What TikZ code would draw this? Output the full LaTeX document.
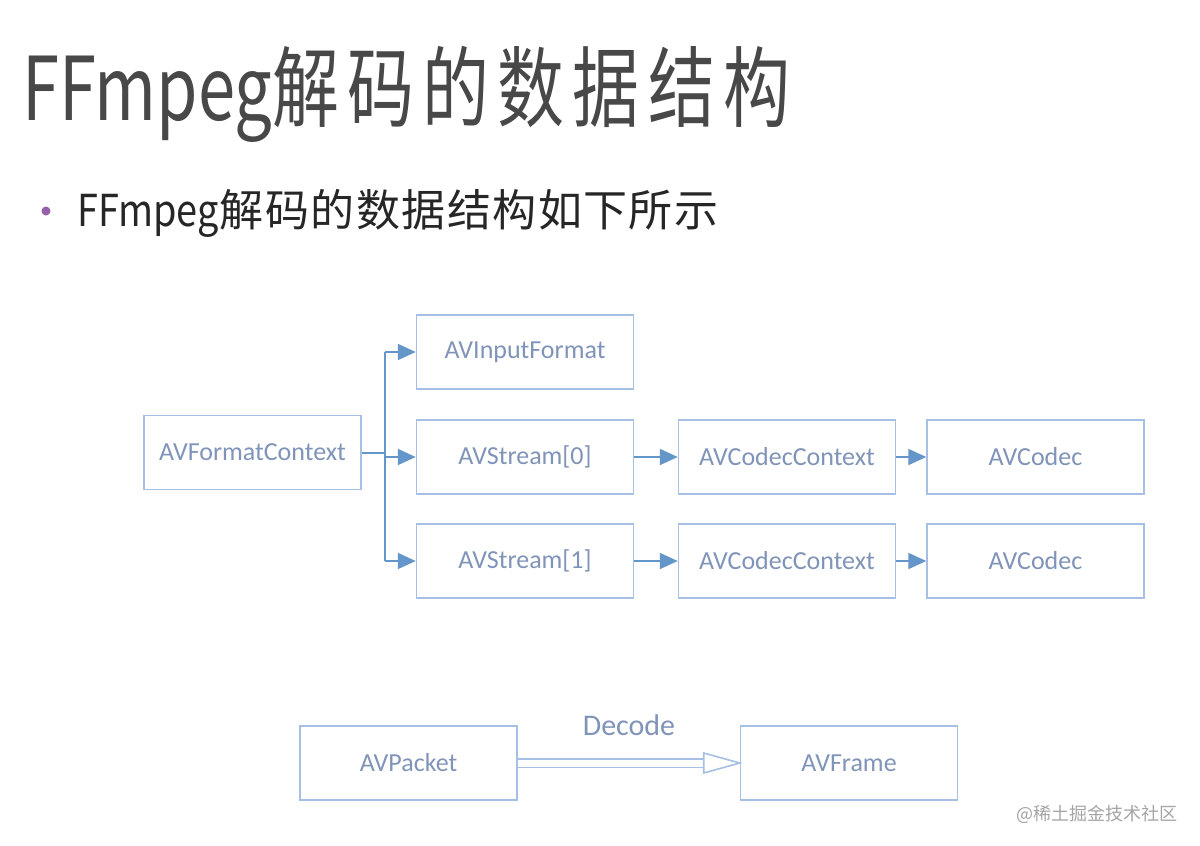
\documentclass[tikz,border=0pt]{standalone}
\usepackage{fontspec}
\setmainfont{Carlito}
\newfontfamily\cjk{Noto Sans CJK SC}
\usetikzlibrary{arrows.meta,calc}
\definecolor{boxline}{RGB}{165,192,228}
\definecolor{boxtext}{RGB}{128,148,185}
\definecolor{arrowc}{RGB}{100,150,202}
\definecolor{titlec}{RGB}{72,72,72}
\definecolor{bulletc}{RGB}{150,95,170}
\definecolor{wmark}{RGB}{165,165,165}
\begin{document}
\begin{tikzpicture}[x=1pt,y=-1pt,
  sbox/.style={draw=boxline,line width=1.5pt,minimum width=217pt,minimum height=74pt,
    inner sep=0pt,text=boxtext,font=\fontsize{26}{28}\selectfont},
  link/.style={draw=arrowc,line width=2pt,-{Triangle[length=18pt,width=16pt]}},
  plain/.style={draw=arrowc,line width=2pt}]
\useasboundingbox[fill=white] (0,0) rectangle (1200,846);
% title
\node[anchor=base west,inner sep=0pt,text=titlec] (title) at (22,120)
  {\scalebox{0.76}[1]{\cjk\fontsize{88}{96}\selectfont FFmpeg解\kern11pt 码\kern11pt 的\kern11pt 数\kern11pt 据\kern11pt 结\kern11pt 构}};
% bullet
\fill[bulletc] (46,211) circle (4.5);
\node[anchor=base west,inner sep=0pt,text=black!85] (sub) at (77,226)
  {\cjk\fontsize{44}{48}\selectfont\scalebox{0.86}[1]{FFmpeg}\kern1pt 解\kern1.5pt 码\kern1.5pt 的\kern1.5pt 数\kern1.5pt 据\kern1.5pt 结\kern1.5pt 构\kern1.5pt 如\kern1.5pt 下\kern1.5pt 所\kern1.5pt 示};
% boxes
\node[sbox] (fc) at (252.5,452.5) {AVFormatContext};
\node[sbox] (inf) at (525,352) {AVInputFormat};
\node[sbox] (s0) at (525,457) {AVStream[0]};
\node[sbox] (s1) at (525,561) {AVStream[1]};
\node[sbox] (cc0) at (787,457) {AVCodecContext};
\node[sbox] (cc1) at (787,561) {AVCodecContext};
\node[sbox] (c0) at (1035.5,457) {AVCodec};
\node[sbox] (c1) at (1035.5,561) {AVCodec};
\node[sbox] (pk) at (408.5,763) {AVPacket};
\node[sbox] (fr) at (849,763) {AVFrame};
% bus
\coordinate (bus) at (385,452.5);
\draw[plain] (fc.east) -- (bus);
\draw[plain] (bus |- inf.west) -- (bus |- s1.west);
\draw[link] (bus |- inf.west) -- (inf.west);
\draw[link] (bus |- s0.west) -- (s0.west);
\draw[link] (bus |- s1.west) -- (s1.west);
\draw[link] (s0.east) -- (cc0.west);
\draw[link] (s1.east) -- (cc1.west);
\draw[link] (cc0.east) -- (c0.west);
\draw[link] (cc1.east) -- (c1.west);
% decode arrow
\coordinate (hb) at ($(fr.west)+(-36,0)$);
\draw[draw=boxline,line width=1.6pt,double=white,double distance=7pt] (pk.east) -- (hb);
\draw[draw=boxline,line width=1.6pt,fill=white,line join=miter] ($(hb)+(0,-10)$) -- (fr.west) -- ($(hb)+(0,10)$) -- cycle;
\node[text=boxtext,font=\fontsize{30}{34}\selectfont,anchor=base] (dec) at (629,735) {Decode};
% watermark
\node[anchor=base east,inner sep=0pt,text=wmark] (wm) at (1178,820)
  {\cjk\fontsize{18}{20}\selectfont @稀土掘金技术社区};
\end{tikzpicture}
\end{document}
